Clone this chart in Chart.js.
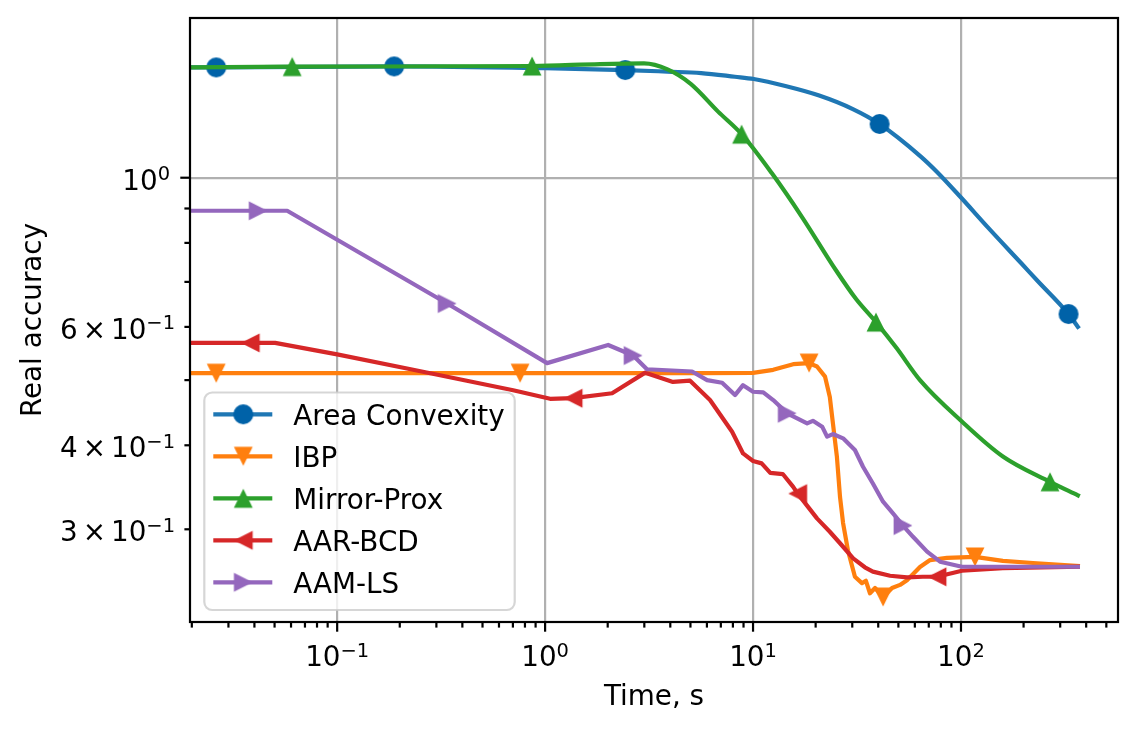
<!DOCTYPE html>
<html>
<head>
<meta charset="utf-8">
<script src="https://cdn.jsdelivr.net/npm/chart.js@4.4.0/dist/chart.umd.min.js"></script>
<style>
  html, body { margin: 0; padding: 0; background: #fff; }
  #wrap { width: 1140px; height: 732px; }
</style>
</head>
<body>
<div id="wrap"><canvas id="accChart" width="1140" height="732"></canvas></div>
<script>
// ---- data (time in s, real accuracy) ----
const seriesNames = ["Area Convexity", "IBP", "Mirror-Prox", "AAR-BCD", "AAM-LS"];

const acTime = [0.0196, 0.0262, 0.188, 1.0, 2.43, 3.88, 5.63, 8.18, 10.08, 14.3, 20.8, 30.2, 40.6, 63.7, 76.7, 99.5, 134, 195, 235, 329, 365];
const acAcc  = [1.459, 1.459, 1.464, 1.455, 1.446, 1.438, 1.431, 1.413, 1.402, 1.369, 1.325, 1.265, 1.202, 1.077, 1.020, 0.936, 0.845, 0.746, 0.701, 0.627, 0.600];
const acMarks = [1, 2, 4, 12, 19];

const ibpTime = [0.0196, 0.0262, 0.758, 5.56, 10, 12.5, 15.6, 18.6, 20.3, 22.2, 23.4, 24.2, 25.3, 26.2, 27.1, 28.6, 30.9, 33.4, 34.9, 36.5, 38.6, 42.2, 46.6, 50.9, 55.0, 63.5, 71.0, 85.6, 116.8, 159, 222, 365];
const ibpAcc  = [0.512, 0.512, 0.512, 0.512, 0.5125, 0.518, 0.528, 0.530, 0.524, 0.506, 0.472, 0.432, 0.385, 0.335, 0.3065, 0.279, 0.255, 0.2495, 0.2515, 0.241, 0.2454, 0.2379, 0.2454, 0.248, 0.252, 0.2636, 0.270, 0.272, 0.2729, 0.2692, 0.2673, 0.2646];
const ibpMarks = [1, 2, 7, 21, 28];

const mpTime = [0.0196, 0.0608, 0.866, 1.84, 2.99, 3.88, 5.03, 6.79, 8.81, 12.3, 17.2, 25.0, 31.3, 39.0, 49.0, 63.5, 101, 159, 268, 365];
const mpAcc  = [1.459, 1.463, 1.466, 1.476, 1.479, 1.449, 1.378, 1.254, 1.161, 1.016, 0.874, 0.729, 0.660, 0.610, 0.558, 0.500, 0.434, 0.385, 0.353, 0.337];
const mpMarks = [1, 2, 8, 13, 18];

const arTime = [0.0196, 0.0382, 0.0503, 0.1, 0.232, 0.702, 1.057, 1.363, 2.10, 3.03, 4.12, 4.98, 6.21, 7.93, 8.95, 10.0, 11.0, 12.1, 13.9, 15.6, 16.4, 20.3, 23.4, 26.2, 30.3, 34.5, 37.7, 45.6, 55.0, 65.6, 76.7, 101, 159, 365];
const arAcc  = [0.568, 0.568, 0.568, 0.546, 0.518, 0.483, 0.469, 0.470, 0.478, 0.513, 0.497, 0.499, 0.467, 0.419, 0.389, 0.379, 0.376, 0.364, 0.3625, 0.347, 0.339, 0.3114, 0.2975, 0.286, 0.2716, 0.2634, 0.2595, 0.2559, 0.2545, 0.255, 0.255, 0.2603, 0.2627, 0.2639];
const arMarks = [1, 7, 20, 30];

const alTime = [0.0196, 0.0417, 0.0575, 0.338, 1.022, 2.01, 2.65, 3.09, 5.09, 6.01, 7.10, 8.19, 8.95, 10.0, 11.2, 12.5, 14.6, 18.2, 19.4, 21.5, 22.7, 24.2, 27.1, 30.9, 33.8, 37.7, 42.2, 47.1, 52.6, 58.8, 68.7, 79.3, 101, 365];
const alAcc  = [0.893, 0.893, 0.893, 0.650, 0.530, 0.564, 0.544, 0.519, 0.515, 0.500, 0.4956, 0.475, 0.4915, 0.4805, 0.4795, 0.467, 0.4463, 0.4312, 0.435, 0.4263, 0.412, 0.4157, 0.4096, 0.3936, 0.3717, 0.351, 0.3297, 0.3168, 0.3039, 0.2924, 0.2779, 0.2685, 0.2639, 0.2639];
const alMarks = [1, 3, 6, 16, 28];

// ---- ticks ----
const xTickValues = [0.1, 1, 10, 100];
const xTickExps = ["\u22121", "0", "1", "2"];
const xMinorValues = [0.02, 0.03, 0.04, 0.05, 0.06, 0.07, 0.08, 0.09, 0.2, 0.3, 0.4, 0.5, 0.6, 0.7, 0.8, 0.9,
                      2, 3, 4, 5, 6, 7, 8, 9, 20, 30, 40, 50, 60, 70, 80, 90, 200, 300, 400, 500];
const yTickValues = [0.3, 0.4, 0.6, 1];
const yTickMants = ["3", "4", "6", ""];
const yTickExps = ["\u22121", "\u22121", "\u22121", "0"];
const yMajorValues = [1];
const yMinorValues = [0.3, 0.4, 0.5, 0.6, 0.7, 0.8, 0.9];

// ---- styling ----
const FONT = 27.8;
const FACE = '"DejaVu Sans"';
const LINE_W = 4.2;
const SUP_RAISE = 9.5;

Chart.defaults.font.family = FACE + ", sans-serif";
Chart.defaults.font.size = FONT;
Chart.defaults.color = "#000";

// matplotlib-like filled markers as small canvases
function markerCanvas(shape, color) {
    const size = 22, m = size / 2, h = 9.4;
    const c = document.createElement("canvas");
    c.width = size; c.height = size;
    const g = c.getContext("2d");
    g.fillStyle = color;
    g.beginPath();
    if (shape === "o") {
        g.arc(m, m, 10, 0, Math.PI * 2);
    } else if (shape === "^") {
        g.moveTo(m, m - h); g.lineTo(m + h, m + h); g.lineTo(m - h, m + h);
    } else if (shape === "v") {
        g.moveTo(m, m + h); g.lineTo(m + h, m - h); g.lineTo(m - h, m - h);
    } else if (shape === "<") {
        g.moveTo(m - h, m); g.lineTo(m + h, m - h); g.lineTo(m + h, m + h);
    } else {
        g.moveTo(m + h, m); g.lineTo(m - h, m - h); g.lineTo(m - h, m + h);
    }
    g.closePath();
    g.fill();
    return c;
}

const series = [
    { t: acTime,  v: acAcc,  marks: acMarks,  color: "#1f77b4", marker: markerCanvas("o", "#0062a8"), smooth: true },
    { t: ibpTime, v: ibpAcc, marks: ibpMarks, color: "#ff7f0e", marker: markerCanvas("v", "#ff7f0e"), smooth: false },
    { t: mpTime,  v: mpAcc,  marks: mpMarks,  color: "#2ca02c", marker: markerCanvas("^", "#2ca02c"), smooth: true },
    { t: arTime,  v: arAcc,  marks: arMarks,  color: "#d62728", marker: markerCanvas("<", "#d62728"), smooth: false },
    { t: alTime,  v: alAcc,  marks: alMarks,  color: "#9467bd", marker: markerCanvas(">", "#9467bd"), smooth: false }
];

const datasets = series.map((s, k) => ({
    label: seriesNames[k],
    data: s.t.map((t, i) => ({ x: t, y: s.v[i] })),
    borderColor: s.color,
    backgroundColor: s.color,
    borderWidth: LINE_W,
    borderJoinStyle: "round",
    borderCapStyle: "square",
    cubicInterpolationMode: s.smooth ? "monotone" : "default",
    tension: 0,
    fill: false,
    pointStyle: s.marker,
    pointRadius: ctx => s.marks.includes(ctx.dataIndex) ? 10 : 0,
    pointHoverRadius: 0,
    order: series.length - k
}));

// "m × 10^e" label, mathtext style
function drawPower(ctx, x, baseline, mant, exp, align) {
    const big = FONT + "px " + FACE;
    const small = (FONT * 0.7) + "px " + FACE;
    const gap = 5;
    ctx.font = big;
    const wM = mant ? ctx.measureText(mant).width : 0;
    const wX = mant ? ctx.measureText("\u00D7").width : 0;
    const w10 = ctx.measureText("10").width;
    ctx.font = small;
    const wE = ctx.measureText(exp).width;
    const total = (mant ? wM + gap + wX + gap : 0) + w10 + wE;
    let cx = align === "center" ? x - total / 2 : x - total;
    ctx.font = big;
    if (mant) {
        ctx.fillText(mant, cx, baseline); cx += wM + gap;
        ctx.fillText("\u00D7", cx, baseline); cx += wX + gap;
    }
    ctx.fillText("10", cx, baseline); cx += w10;
    ctx.font = small;
    ctx.fillText(exp, cx, baseline - SUP_RAISE);
}

// spines, tick marks (major/minor) and tick labels
const axesFrame = {
    id: "axesFrame",
    afterDatasetsDraw(chart) {
        const { ctx, chartArea: a, scales: { x, y } } = chart;
        ctx.save();
        ctx.strokeStyle = "#000";
        ctx.lineWidth = 2.2;
        const seg = (x1, y1, x2, y2) => { ctx.beginPath(); ctx.moveTo(x1, y1); ctx.lineTo(x2, y2); ctx.stroke(); };
        xMinorValues.forEach(v => {
            const p = x.getPixelForValue(v);
            if (p >= a.left - 1 && p <= a.right + 1) seg(p, a.bottom, p, a.bottom + 5.6);
        });
        xTickValues.forEach(v => {
            const p = x.getPixelForValue(v);
            seg(p, a.bottom, p, a.bottom + 9.7);
        });
        yMinorValues.forEach(v => {
            const p = y.getPixelForValue(v);
            seg(a.left, p, a.left - 5.6, p);
        });
        yMajorValues.forEach(v => {
            const p = y.getPixelForValue(v);
            seg(a.left, p, a.left - 9.7, p);
        });
        ctx.strokeRect(a.left, a.top, a.right - a.left, a.bottom - a.top);

        ctx.fillStyle = "#000";
        ctx.textBaseline = "alphabetic";
        ctx.textAlign = "left";
        xTickValues.forEach((v, i) => {
            drawPower(ctx, x.getPixelForValue(v), a.bottom + 44, "", xTickExps[i], "center");
        });
        yTickValues.forEach((v, i) => {
            const right = yMajorValues.includes(v) ? a.left - 20 : a.left - 15;
            drawPower(ctx, right, y.getPixelForValue(v) + 12, yTickMants[i], yTickExps[i], "right");
        });
        ctx.restore();
    }
};

// legend box in the lower left corner of the axes
const legendBox = {
    id: "legendBox",
    afterDatasetsDraw(chart) {
        const { ctx, chartArea: a } = chart;
        const sets = chart.data.datasets;
        ctx.save();
        ctx.font = FONT + "px " + FACE;
        const textW = Math.max(...sets.map(d => ctx.measureText(d.label).width));
        const w = 11 + 55 + 22 + textW + 11;
        const h = 217.5;
        const left = a.left + 14.3;
        const top = a.bottom - 12 - h;
        const r = 8;

        ctx.beginPath();
        ctx.moveTo(left + r, top);
        ctx.lineTo(left + w - r, top);
        ctx.arcTo(left + w, top, left + w, top + r, r);
        ctx.lineTo(left + w, top + h - r);
        ctx.arcTo(left + w, top + h, left + w - r, top + h, r);
        ctx.lineTo(left + r, top + h);
        ctx.arcTo(left, top + h, left, top + h - r, r);
        ctx.lineTo(left, top + r);
        ctx.arcTo(left, top, left + r, top, r);
        ctx.closePath();
        ctx.fillStyle = "rgba(255,255,255,0.8)";
        ctx.fill();
        ctx.strokeStyle = "rgba(204,204,204,0.8)";
        ctx.lineWidth = 2.2;
        ctx.stroke();

        sets.forEach((d, i) => {
            const cy = top + 21.8 + i * 42;
            ctx.strokeStyle = d.borderColor;
            ctx.lineWidth = LINE_W;
            ctx.lineCap = "butt";
            ctx.beginPath();
            ctx.moveTo(left + 9, cy);
            ctx.lineTo(left + 68, cy);
            ctx.stroke();
            const img = d.pointStyle;
            ctx.drawImage(img, left + 39 - img.width / 2, cy - img.height / 2);
            ctx.fillStyle = "#000";
            ctx.textBaseline = "alphabetic";
            ctx.textAlign = "left";
            ctx.fillText(d.label, left + 89, cy + 10.5);
        });
        ctx.restore();
    }
};

const noPad = s => { s.paddingTop = 0; s.paddingBottom = 0; s.paddingLeft = 0; s.paddingRight = 0; };

new Chart(document.getElementById("accChart"), {
    type: "line",
    data: { datasets },
    options: {
        responsive: false,
        animation: false,
        events: [],
        layout: { padding: { left: 0, right: 22, top: 18, bottom: 0 } },
        plugins: {
            legend: { display: false },
            tooltip: { enabled: false }
        },
        scales: {
            x: {
                type: "logarithmic",
                min: 0.0196,
                max: 569,
                bounds: "data",
                afterBuildTicks: s => { s.ticks = xTickValues.map(v => ({ value: v })); },
                afterFit: s => { s.height = 110; noPad(s); },
                grid: { color: "#b0b0b0", lineWidth: 2.2, drawTicks: false },
                border: { display: false },
                ticks: { display: false },
                title: {
                    display: true, text: "Time, s", color: "#000",
                    font: { size: FONT }, padding: { top: 0, bottom: 18 }
                }
            },
            y: {
                type: "logarithmic",
                min: 0.2184,
                max: 1.728,
                bounds: "data",
                afterBuildTicks: s => { s.ticks = yTickValues.map(v => ({ value: v })); },
                afterFit: s => { s.width = 190; noPad(s); },
                grid: {
                    color: c => (c.tick && c.tick.value === 1) ? "#b0b0b0" : "rgba(0,0,0,0)",
                    lineWidth: 2.2, drawTicks: false
                },
                border: { display: false },
                ticks: { display: false },
                title: {
                    display: true, text: "Real accuracy", color: "#000",
                    font: { size: FONT }, padding: { top: 17, bottom: 0 }
                }
            }
        }
    },
    plugins: [axesFrame, legendBox]
});
</script>
</body>
</html>
